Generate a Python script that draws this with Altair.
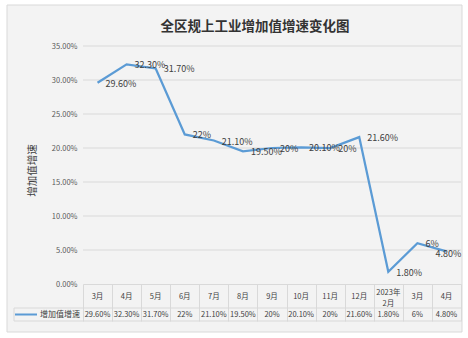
import altair as alt
import pandas as pd

categories = ["3月", "4月", "5月", "6月", "7月", "8月", "9月", "10月", "11月", "12月", "2023年\n2月", "3月", "4月"]
values = [29.6, 32.3, 31.7, 22, 21.1, 19.5, 20, 20.1, 20, 21.6, 1.8, 6, 4.8]
value_labels = ["29.60%", "32.30%", "31.70%", "22%", "21.10%", "19.50%", "20%", "20.10%", "20%", "21.60%", "1.80%", "6%", "4.80%"]
series_name = "增加值增速"
title_text = "全区规上工业增加值增速变化图"
y_ticks = [0, 5, 10, 15, 20, 25, 30, 35]

keys = [f"k{i}" for i in range(len(categories))]
df = pd.DataFrame({"key": keys, "cat": categories, "value": values, "label": value_labels,
                   "last": [i == len(categories) - 1 for i in range(len(categories))]})
ticks_df = pd.DataFrame({"tick": y_ticks[1:]})

W, H = 378, 238
FONT = "Noto Sans CJK SC"
LINE_COLOR = "#5b9bd5"
TEXT_COLOR = "#404040"
GRID = "#d9d9d9"

x_axis = alt.Axis(title=None, labels=False, domain=True, domainColor=GRID, zindex=1,
                  ticks=True, tickBand="extent", tickSize=37, tickColor=GRID, grid=False)
x_enc = alt.X("key:N", sort=keys, scale=alt.Scale(paddingInner=0, paddingOuter=0), axis=x_axis)
y_scale = alt.Scale(domain=[0, 35], nice=False)
y_axis = alt.Axis(values=y_ticks, labelExpr="format(datum.value, '.2f') + '%'", zindex=1,
                  domain=False, ticks=False, grid=False,
                  labelFont=FONT, labelFontSize=7.5, labelColor="#595959",
                  labelPadding=6, title=series_name, titleFont=FONT,
                  titleFontSize=10.5, titleFontWeight="normal", titleColor=TEXT_COLOR,
                  titleAngle=-90, titleX=-51, titleY=124,
                  titleAlign="center", titleBaseline="middle")
y_enc = alt.Y("value:Q", scale=y_scale, axis=y_axis)

one = pd.DataFrame({"a": [0]})

bg = alt.Chart(one).mark_rect(fill="#f3f3f3", stroke="#d9d9d9", strokeWidth=1).encode(
    x=alt.value(-76), x2=alt.value(379), y=alt.value(-41), y2=alt.value(286))

grid = alt.Chart(ticks_df).mark_rule(color=GRID, strokeWidth=1).encode(
    x=alt.value(0), x2=alt.value(W), y=alt.Y("tick:Q", scale=y_scale, axis=y_axis))

line = alt.Chart(df).mark_line(color=LINE_COLOR, strokeWidth=2.25).encode(x=x_enc, y=y_enc)

labels = alt.Chart(df).transform_filter("!datum.last").mark_text(
    align="left", baseline="middle", dx=8, dy=1,
    font=FONT, fontSize=9, color=TEXT_COLOR).encode(x=x_enc, y=y_enc, text="label:N")

labels_last = alt.Chart(df).transform_filter("datum.last").mark_text(
    align="left", baseline="middle", dx=-11, dy=3,
    font=FONT, fontSize=9, color=TEXT_COLOR).encode(x=x_enc, y=y_enc, text="label:N")

cat_single = alt.Chart(df).transform_filter("indexof(datum.cat, '\\n') < 0").mark_text(
    baseline="middle", font=FONT, fontSize=7.5, color=TEXT_COLOR).encode(
    x=x_enc, y=alt.value(251), text="cat:N")

cat_multi = alt.Chart(df).transform_filter("indexof(datum.cat, '\\n') >= 0").mark_text(
    baseline="middle", font=FONT, fontSize=7.5, color=TEXT_COLOR,
    lineBreak="\n", lineHeight=10.5).encode(
    x=x_enc, y=alt.value(247), text="cat:N")

val_text = alt.Chart(df).mark_text(baseline="middle", font=FONT, fontSize=7.5,
                                   color=TEXT_COLOR).encode(
    x=x_enc, y=alt.value(268.5), text="label:N")

hrule1 = alt.Chart(one).mark_rule(color=GRID, strokeWidth=1).encode(
    x=alt.value(-69), x2=alt.value(W), y=alt.value(262))
hrule2 = alt.Chart(one).mark_rule(color=GRID, strokeWidth=1).encode(
    x=alt.value(-69), x2=alt.value(W), y=alt.value(275))
vrule = alt.Chart(one).mark_rule(color=GRID, strokeWidth=1).encode(
    x=alt.value(-69), y=alt.value(262), y2=alt.value(275))

legend_line = alt.Chart(one).mark_rule(color=LINE_COLOR, strokeWidth=2).encode(
    x=alt.value(-68), x2=alt.value(-46), y=alt.value(268.5))

legend_text = alt.Chart(pd.DataFrame({"t": [series_name]})).mark_text(
    align="left", baseline="middle", font=FONT, fontSize=8, color=TEXT_COLOR).encode(
    x=alt.value(-43), y=alt.value(268.5), text="t:N")

title_mark = alt.Chart(pd.DataFrame({"t": [title_text]})).mark_text(
    align="center", baseline="middle", font=FONT, fontSize=13.5, fontWeight="bold",
    color="#333333").encode(x=alt.value(172), y=alt.value(-19), text="t:N")

chart = alt.layer(bg, grid, hrule1, hrule2, vrule, line, labels, labels_last,
                  cat_single, cat_multi, val_text,
                  legend_line, legend_text, title_mark).properties(
    width=W, height=H,
    padding={"left": 83, "top": 46, "right": 7, "bottom": 54},
    autosize=alt.AutoSizeParams(type="none"),
    background="#ffffff",
).configure_view(stroke=None)

chart.save("out.html", embed_options={"renderer": "svg", "actions": False})
